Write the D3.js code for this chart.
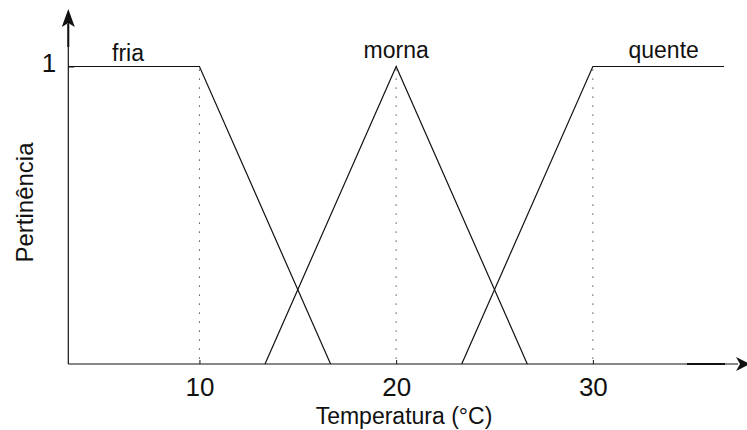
<!DOCTYPE html>
<html>
<head>
<meta charset="utf-8">
<script src="https://cdn.jsdelivr.net/npm/d3@7"></script>
<style>
  html, body { margin: 0; padding: 0; background: #fff; }
  svg { display: block; font-family: "Liberation Sans", Arial, sans-serif; }
</style>
</head>
<body>
<svg id="chart" width="747" height="430"></svg>
<script>
// Fuzzy membership functions for water temperature
const xDomain = [10 / 3, 110 / 3];
const tempTicks = [10, 20, 30];
const memberTicks = [1];

const friaX = [10 / 3, 10, 50 / 3];
const friaY = [1, 1, 0];
const mornaX = [40 / 3, 20, 80 / 3];
const mornaY = [0, 1, 0];
const quenteX = [70 / 3, 30, 110 / 3];
const quenteY = [0, 1, 1];

const setNames = ["fria", "morna", "quente"];
const setLabelX = [6.37, 20, 33.6];
const setLabelY = [1.017, 1.027, 1.03];

const xTitle = "Temperatura (°C)";
const yTitle = "Pertinência";

const svg = d3.select("#chart");
const x = d3.scaleLinear().domain(xDomain).range([68.3, 724]);
const y = d3.scaleLinear().domain([0, 1]).range([364, 66.5]);

const ink = "#111";

// Dotted guides under each peak
svg.append("g").selectAll("line").data(tempTicks).join("line")
  .attr("x1", d => x(d)).attr("x2", d => x(d))
  .attr("y1", y(1) + 3).attr("y2", y(0))
  .attr("stroke", "#222").attr("stroke-width", 1)
  .attr("stroke-dasharray", "1.2,7.8");

// Membership curves
const line = d3.line().x(d => x(d[0])).y(d => y(d[1]));
const sets = [
  d3.zip(friaX, friaY),
  d3.zip(mornaX, mornaY),
  d3.zip(quenteX, quenteY)
];
svg.append("g").selectAll("path").data(sets).join("path")
  .attr("d", line)
  .attr("fill", "none")
  .attr("stroke", ink)
  .attr("stroke-width", 1.2);

// Set names above the curves
svg.append("g").selectAll("text").data(setNames).join("text")
  .attr("x", (d, i) => x(setLabelX[i]))
  .attr("y", (d, i) => y(setLabelY[i]))
  .attr("text-anchor", "middle")
  .attr("font-size", 23)
  .attr("fill", ink)
  .text(d => d);

// X axis with arrow
const xAxis = d3.axisBottom(x).tickValues(tempTicks).tickSize(-4).tickPadding(14)
  .tickFormat(d3.format("d"));
const gx = svg.append("g").attr("transform", `translate(0,${y(0)})`).call(xAxis);
gx.select(".domain").remove();
gx.selectAll(".tick line").attr("stroke", ink);
gx.selectAll(".tick text").attr("font-size", 26).attr("fill", ink)
  .attr("font-family", "'Liberation Sans', Arial, sans-serif");

svg.append("line")
  .attr("x1", x.range()[0]).attr("x2", 738)
  .attr("y1", y(0)).attr("y2", y(0))
  .attr("stroke", ink).attr("stroke-width", 1.2);
svg.append("line")
  .attr("x1", 687).attr("x2", 725)
  .attr("y1", y(0)).attr("y2", y(0))
  .attr("stroke", ink).attr("stroke-width", 2);
const yb = y(0);
svg.append("path")
  .attr("d", `M750,${yb} L736,${yb - 7} L740,${yb} L736,${yb + 7} Z`)
  .attr("fill", ink);

// Y axis with arrow
const yAxis = d3.axisLeft(y).tickValues(memberTicks).tickSize(-6).tickPadding(12)
  .tickFormat(d3.format("d"));
const gy = svg.append("g").attr("transform", `translate(${x.range()[0]},0)`).call(yAxis);
gy.select(".domain").remove();
gy.selectAll(".tick line").attr("stroke", ink);
gy.selectAll(".tick text").attr("font-size", 26).attr("fill", ink)
  .attr("dy", "0.2em")
  .attr("font-family", "'Liberation Sans', Arial, sans-serif");

const xa = x.range()[0];
svg.append("line")
  .attr("x1", xa).attr("x2", xa)
  .attr("y1", y(0)).attr("y2", 22)
  .attr("stroke", ink).attr("stroke-width", 1.2);
svg.append("line")
  .attr("x1", xa).attr("x2", xa)
  .attr("y1", 47).attr("y2", 24)
  .attr("stroke", ink).attr("stroke-width", 2);
svg.append("path")
  .attr("d", `M${xa},9 L${xa - 6.5},27 L${xa},23 L${xa + 6.5},27 Z`)
  .attr("fill", ink);

// Axis titles
svg.append("text")
  .attr("x", 404).attr("y", 424)
  .attr("text-anchor", "middle")
  .attr("font-size", 23).attr("fill", ink)
  .text(xTitle);
svg.append("text")
  .attr("transform", "translate(33,202.5) rotate(-90)")
  .attr("text-anchor", "middle")
  .attr("font-size", 24).attr("fill", ink)
  .text(yTitle);
</script>
</body>
</html>
